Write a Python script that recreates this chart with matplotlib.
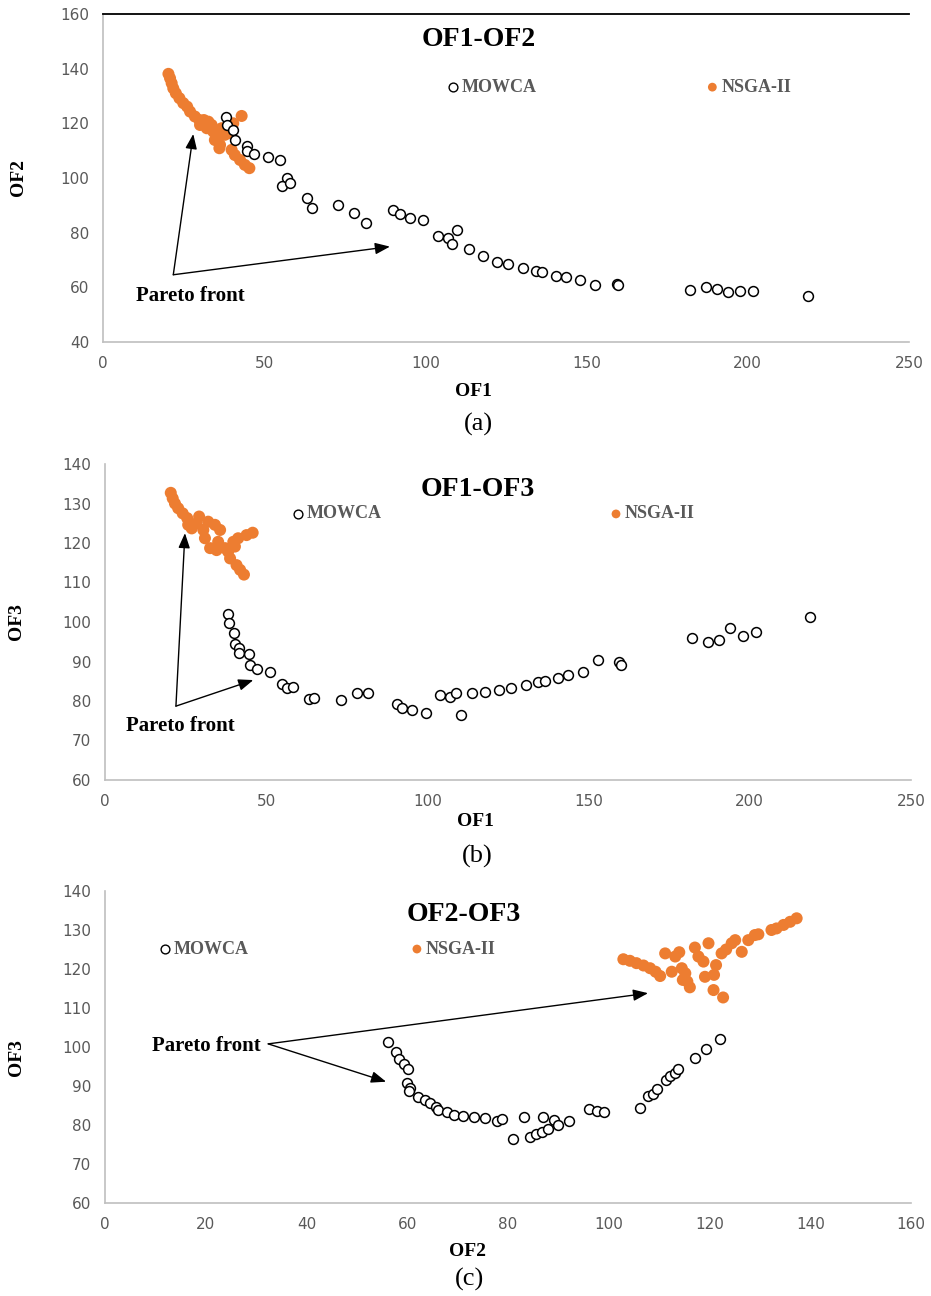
import matplotlib
matplotlib.use("Agg")
import matplotlib.pyplot as plt

# ---- data ----
# (a) OF1 vs OF2
mowca_a_of1 = [38.2, 38.4, 40.4, 40.9, 44.6, 44.6, 46.8, 51.1, 54.9, 57.0, 55.4, 58.0,
               63.2, 64.7, 72.8, 77.9, 81.5, 90.0, 92.1, 95.2, 99.3, 104.0, 107.1, 109.9,
               108.3, 113.5, 118.0, 122.1, 125.5, 130.4, 134.2, 136.3, 140.5, 143.6, 148.0,
               152.6, 159.3, 159.6, 182.1, 186.9, 190.4, 193.8, 197.6, 201.7, 218.6]
mowca_a_of2 = [122.4, 119.4, 117.6, 113.9, 111.7, 109.7, 108.8, 107.8, 106.6, 99.9, 96.9, 98.1,
               92.6, 89.0, 90.2, 87.3, 83.7, 88.3, 86.9, 85.5, 84.7, 78.9, 78.0, 81.0,
               75.8, 74.1, 71.3, 69.4, 68.5, 67.0, 66.1, 65.5, 64.2, 63.9, 62.5,
               60.7, 61.2, 61.0, 59.1, 60.3, 59.5, 58.2, 58.7, 58.7, 56.9]
nsga_a_of1 = [20.3, 20.8, 21.3, 21.8, 22.6, 23.7, 24.9, 26.1, 27.0, 28.5, 29.9, 31.3, 32.7,
              33.7, 32.2, 34.2, 35.8, 34.7, 36.3, 36.1, 37.8, 39.4, 40.4, 43.0, 39.9, 40.9,
              42.5, 44.0, 45.4, 30.1, 36.8]
nsga_a_of2 = [138.1, 136.5, 134.7, 132.8, 131.0, 129.2, 127.4, 126.1, 124.3, 122.5, 121.2, 121.2, 120.6,
              119.4, 118.2, 117.0, 115.8, 113.9, 112.1, 110.9, 115.8, 116.4, 120.0, 122.7, 110.3, 108.4,
              106.6, 104.8, 103.6, 119.4, 118.2]

# (b) OF1 vs OF3
mowca_b_of1 = [38.3, 38.6, 40.1, 40.3, 41.7, 41.7, 44.7, 45.0, 47.2, 51.2, 55.0, 56.5, 58.4,
               63.4, 64.9, 73.1, 78.1, 81.7, 90.5, 92.2, 95.3, 99.6, 103.9, 107.0, 108.8,
               110.3, 113.7, 117.9, 122.2, 125.8, 130.5, 134.2, 136.5, 140.6, 143.7, 148.2,
               152.8, 159.5, 159.9, 182.0, 187.1, 190.5, 193.9, 197.8, 201.9, 218.7]
mowca_b_of3 = [102.0, 99.7, 97.1, 94.4, 93.5, 92.1, 91.8, 89.1, 88.1, 87.4, 84.2, 83.2, 83.6,
               80.5, 80.8, 80.3, 82.1, 82.1, 79.2, 78.2, 77.7, 77.0, 81.5, 81.1, 82.0,
               76.4, 82.1, 82.4, 82.8, 83.4, 84.1, 84.7, 85.1, 85.9, 86.6, 87.3,
               90.4, 90.0, 89.1, 95.9, 94.9, 95.4, 98.4, 96.5, 97.4, 101.2]
nsga_b_of1 = [20.4, 21.0, 21.7, 22.7, 24.1, 25.5, 25.8, 26.9, 29.2, 28.4, 30.5, 31.0, 32.0,
              34.1, 35.7, 32.6, 34.6, 35.1, 37.2, 38.2, 39.8, 41.3, 43.9, 45.8, 38.8, 40.8,
              41.9, 43.1, 40.3]
nsga_b_of3 = [132.7, 131.3, 130.0, 128.8, 127.5, 126.3, 124.6, 123.7, 126.7, 125.0, 123.3, 121.2, 125.4,
              124.6, 123.3, 118.7, 118.2, 120.3, 118.7, 117.8, 120.3, 121.2, 122.0, 122.6, 116.1, 114.4,
              113.2, 112.0, 119.1]

# (c) OF2 vs OF3
mowca_c_of2 = [56.2, 57.8, 58.4, 59.4, 60.1, 60.0, 60.5, 60.4, 62.1, 63.5, 64.5, 65.7, 66.2,
               67.8, 69.2, 71.1, 73.3, 75.4, 77.8, 78.9, 80.9, 83.2, 84.4, 85.5, 86.7, 88.0,
               87.0, 89.1, 89.9, 92.1, 96.0, 97.7, 99.1, 106.2, 107.7, 108.7, 109.6, 111.4,
               112.2, 113.2, 113.8, 117.1, 119.3, 122.1]
mowca_c_of3 = [101.4, 98.6, 96.9, 95.6, 94.4, 90.7, 89.6, 88.7, 87.1, 86.4, 85.6, 84.5, 83.8,
               83.3, 82.6, 82.3, 82.0, 81.7, 81.0, 81.5, 76.4, 82.1, 77.0, 77.6, 78.3, 79.1,
               82.0, 81.3, 80.0, 80.9, 84.0, 83.7, 83.3, 84.3, 87.4, 88.0, 89.2, 91.5,
               92.6, 93.4, 94.3, 97.1, 99.4, 102.0]
nsga_c_of2 = [102.9, 104.2, 105.5, 106.9, 108.2, 109.3, 110.2, 111.2, 113.2, 114.0, 112.5, 114.5,
              115.2, 114.7, 115.6, 116.1, 117.1, 117.8, 118.8, 119.8, 119.1, 120.9, 121.3, 120.8,
              122.7, 122.4, 123.3, 124.4, 125.1, 126.4, 127.7, 129.0, 129.7, 132.3, 133.3,
              134.7, 136.0, 137.3]
nsga_c_of3 = [122.5, 122.1, 121.5, 120.9, 120.2, 119.3, 118.2, 124.0, 123.2, 124.3, 119.3, 120.2,
              118.9, 117.2, 116.8, 115.3, 125.5, 123.2, 121.9, 126.6, 118.0, 118.5, 121.0, 114.6,
              112.7, 124.0, 125.0, 126.6, 127.4, 124.4, 127.4, 128.7, 128.9, 130.0, 130.4,
              131.3, 132.1, 133.0]

orange = "#ED7D31"
grey_txt = "#595959"
serif = "Liberation Serif"

W, H = 931, 1296
fig = plt.figure(figsize=(W / 100, H / 100), dpi=100)


def px_axes(l, r, t, b):
    return fig.add_axes([l / W, 1 - b / H, (r - l) / W, (b - t) / H])


def px_text(x, y, s, **kw):
    fig.text(x / W, 1 - y / H, s, ha="center", va="center", **kw)


panels = [
    dict(box=(103, 909, 14, 342), x=(mowca_a_of1, nsga_a_of1), y=(mowca_a_of2, nsga_a_of2),
         xlim=(0, 250), xt=range(0, 251, 50), ylim=(40, 160), yt=range(40, 161, 20),
         title="OF1-OF2", tpos=(0.4665, 0.921), leg=((0.434, 0.777), (0.756, 0.777)),
         vertex=(21.8, 64.6), tips=[(28.0, 116.1), (89.0, 74.9)], ptxt=(27.0, 56.9),
         xlab=("OF1", 473, 392), ylab=("OF2", 18, 178), tag=("(a)", 478, 424), top=True),
    dict(box=(105, 911, 464, 780), x=(mowca_b_of1, nsga_b_of1), y=(mowca_b_of3, nsga_b_of3),
         xlim=(0, 250), xt=range(0, 251, 50), ylim=(60, 140), yt=range(60, 141, 10),
         title="OF1-OF3", tpos=(0.4628, 0.918), leg=((0.2395, 0.842), (0.634, 0.842)),
         vertex=(22.0, 78.7), tips=[(24.8, 122.5), (46.0, 85.3)], ptxt=(23.3, 73.7),
         xlab=("OF1", 475, 822), ylab=("OF3", 16, 622), tag=("(b)", 477, 856), top=False),
    dict(box=(105, 911, 891, 1203), x=(mowca_c_of2, nsga_c_of2), y=(mowca_c_of3, nsga_c_of3),
         xlim=(0, 160), xt=range(0, 161, 20), ylim=(60, 140), yt=range(60, 141, 10),
         title="OF2-OF3", tpos=(0.4454, 0.926), leg=((0.0744, 0.814), (0.387, 0.814)),
         vertex=(32.4, 100.8), tips=[(107.8, 113.8), (55.8, 91.1)], ptxt=(20.2, 100.3),
         xlab=("OF2", 467, 1251), ylab=("OF3", 16, 1058), tag=("(c)", 470, 1279), top=False),
]

for p in panels:
    ax = px_axes(*p["box"])
    mx, nx = p["x"]
    my, ny = p["y"]
    ax.scatter(nx, ny, s=75, color=orange, edgecolors="none", zorder=3)
    ax.scatter(mx, my, s=50, facecolors="white", edgecolors="black", linewidths=1.1, zorder=4)

    ax.set_xlim(*p["xlim"])
    ax.set_ylim(*p["ylim"])
    ax.set_xticks(list(p["xt"]))
    ax.set_yticks(list(p["yt"]))
    ax.tick_params(length=0, labelsize=11, labelcolor=grey_txt, pad=10)
    for s in ("right", "top"):
        ax.spines[s].set_visible(False)
    for s in ("left", "bottom"):
        ax.spines[s].set_color("#bfbfbf")
        ax.spines[s].set_linewidth(1.2)
    if p["top"]:
        ax.spines["top"].set_visible(True)
        ax.spines["top"].set_color("black")
        ax.spines["top"].set_linewidth(1.3)

    ax.text(*p["tpos"], p["title"], transform=ax.transAxes, ha="center", va="center",
            fontsize=20, fontweight="bold", family=serif)

    # legend entries
    for (lx, ly), lab, face in zip(p["leg"], ["MOWCA", "NSGA-II"], ["white", orange]):
        ax.scatter([lx], [ly], s=40, transform=ax.transAxes, facecolors=face,
                   edgecolors="black" if face == "white" else "none", linewidths=1.0,
                   clip_on=False, zorder=5)
        ax.text(lx + 0.011, ly, lab, transform=ax.transAxes, ha="left", va="center",
                fontsize=13, fontweight="bold", family=serif, color=grey_txt)

    # Pareto front annotation
    for tip in p["tips"]:
        ax.annotate("", xy=tip, xytext=p["vertex"],
                    arrowprops=dict(arrowstyle="-|>,head_length=0.9,head_width=0.35",
                                    color="black", lw=1.0, shrinkA=0, shrinkB=0))
    ax.text(*p["ptxt"], "Pareto front", ha="center", va="center", fontsize=15,
            fontweight="bold", family=serif)

    lab, x, y = p["xlab"]
    px_text(x, y, lab, fontsize=14, fontweight="bold", family=serif)
    lab, x, y = p["ylab"]
    px_text(x, y, lab, fontsize=14, fontweight="bold", family=serif, rotation=90)
    lab, x, y = p["tag"]
    px_text(x, y, lab, fontsize=19, family=serif)

fig.savefig("out.png", dpi=100)
